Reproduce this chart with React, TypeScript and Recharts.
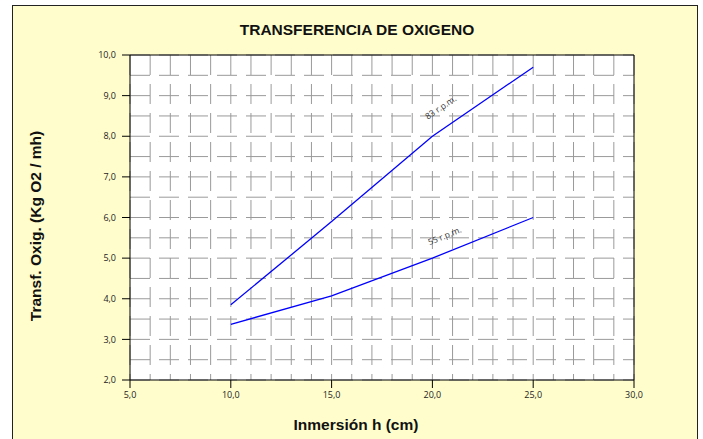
import { LineChart, Line, XAxis, YAxis, CartesianGrid, ReferenceLine, ReferenceDot } from 'recharts';

// Inmersión h (cm)
const inmersion = [10, 15, 20, 25];
// Transf. Oxig. (Kg O2 / mh)
const rpm83 = [3.85, 5.9, 8.0, 9.7];
const rpm55 = [3.37, 4.07, 5.0, 6.0];

const xTicks = [5, 10, 15, 20, 25, 30];
const yTicks = [2, 3, 4, 5, 6, 7, 8, 9, 10];
const xGrid = [5, 6, 7, 8, 9, 10, 11, 12, 13, 14, 15, 16, 17, 18, 19, 20, 21, 22, 23, 24, 25, 26, 27, 28, 29, 30];
const yGrid = [2, 2.5, 3, 3.5, 4, 4.5, 5, 5.5, 6, 6.5, 7, 7.5, 8, 8.5, 9, 9.5, 10];

const data = inmersion.map((h, i) => ({ h, rpm83: rpm83[i], rpm55: rpm55[i] }));

const fmt = (v: number) => v.toFixed(1).replace('.', ',');

const tickStyle = { fill: '#222', fontSize: 9, fontFamily: 'Open Sans' };
const labelFont = { fontFamily: '"Liberation Sans", Arial', fontWeight: 'bold' as const, fontSize: 15.5, color: '#111' };

const rotText = (text: string, angle: number) => (p: any) => (
  <text
    x={p.cx}
    y={p.cy}
    transform={`rotate(${angle} ${p.cx} ${p.cy})`}
    textAnchor="middle"
    dominantBaseline="central"
    fontSize={8.5}
    fontFamily="Open Sans"
    fill="#333"
  >
    {text}
  </text>
);

export default function App() {
  return (
    <div style={{ position: 'absolute', left: 0, top: 0, width: 703, height: 439, overflow: 'hidden', background: '#fff' }}>
      <div style={{ position: 'absolute', left: 12, top: 5, width: 684, height: 450, background: '#FFFDCC', border: '1px solid #222' }} />
      <div style={{ position: 'absolute', left: 0, top: 0 }}>
        <LineChart width={703} height={439} data={data} margin={{ top: 55, right: 69, bottom: 29, left: 80 }}>
          <CartesianGrid xAxisId="g" yAxisId="g" fill="#fff" stroke="#9a9a9a" strokeDasharray="20 9" />
          <XAxis
            xAxisId="g"
            dataKey="h"
            type="number"
            domain={[5, 30]}
            ticks={xGrid}
            height={0}
            mirror
            tickSize={4}
            tickFormatter={() => ''}
            axisLine={false}
            stroke="#000"
          />
          <YAxis
            yAxisId="g"
            dataKey="rpm83"
            type="number"
            domain={[2, 10]}
            ticks={yGrid}
            width={0}
            tickFormatter={() => ''}
            axisLine={false}
            tickLine={false}
          />
          <XAxis
            dataKey="h"
            type="number"
            domain={[5, 30]}
            ticks={xTicks}
            tickFormatter={fmt}
            tick={tickStyle}
            tickSize={8}
            tickMargin={4}
            height={30}
            stroke="#000"
          />
          <YAxis
            type="number"
            domain={[2, 10]}
            ticks={yTicks}
            tickFormatter={fmt}
            tick={tickStyle}
            tickSize={8}
            tickMargin={6}
            width={50}
            stroke="#000"
          />
          <ReferenceLine y={10} stroke="#000" />
          <ReferenceLine x={30} stroke="#000" />
          <Line dataKey="rpm83" type="linear" stroke="#0000ff" strokeWidth={1.3} dot={false} isAnimationActive={false} />
          <Line dataKey="rpm55" type="linear" stroke="#0000ff" strokeWidth={1.3} dot={false} isAnimationActive={false} />
          <ReferenceDot x={20.4} y={8.72} r={0} shape={rotText('83 r.p.m.', -34)} />
          <ReferenceDot x={20.6} y={5.56} r={0} shape={rotText('55 r.p.m.', -22)} />
        </LineChart>
      </div>
      <div style={{ ...labelFont, position: 'absolute', left: 357, top: 30, transform: 'translate(-50%, -50%)', whiteSpace: 'nowrap' }}>
        TRANSFERENCIA DE OXIGENO
      </div>
      <div style={{ ...labelFont, position: 'absolute', left: 356, top: 425, transform: 'translate(-50%, -50%)', whiteSpace: 'nowrap' }}>
        Inmersión h (cm)
      </div>
      <div style={{ ...labelFont, position: 'absolute', left: 36, top: 226, transform: 'translate(-50%, -50%) rotate(-90deg)', whiteSpace: 'nowrap' }}>
        Transf. Oxig. (Kg O2 / mh)
      </div>
    </div>
  );
}
